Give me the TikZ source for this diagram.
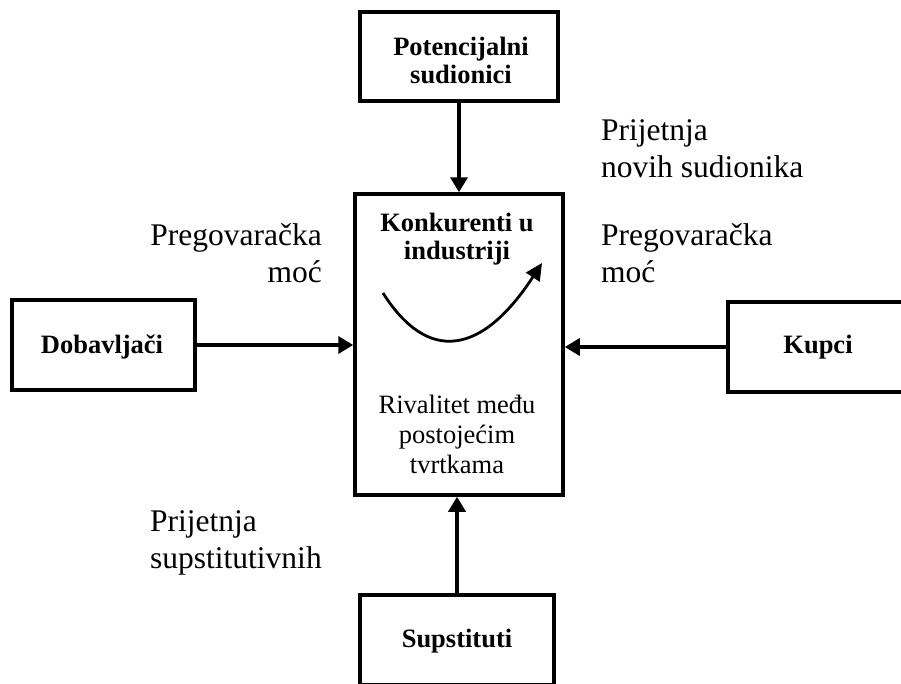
\documentclass[tikz,border=0pt]{standalone}
\usepackage{fontspec}
\setmainfont{Liberation Serif}
\usetikzlibrary{arrows.meta}
\tikzset{
  box/.style={draw, line width=3.5pt, rectangle, inner sep=0pt},
  boxtext/.style={inner sep=0pt, align=center, font=\fontsize{26.5}{28}\selectfont\bfseries},
  inner/.style={inner sep=0pt, align=center, font=\fontsize{26.5}{30}\selectfont},
  lbl/.style={inner sep=0pt, font=\fontsize{31.5}{37}\selectfont},
  conn/.style={line width=3.5pt, -{Triangle[length=15pt,width=17pt]}},
}
\begin{document}
\begin{tikzpicture}[x=1pt,y=-1pt]
\useasboundingbox (0,0) rectangle (901,683);
% boxes
\node[box, minimum width=198pt, minimum height=89pt] (pot) at (459,56.5) {};
\node[box, minimum width=208pt, minimum height=301pt] (kon) at (459,344.5) {};
\node[box, minimum width=183pt, minimum height=90pt] (dob) at (103.5,345) {};
\node[box, minimum width=182pt, minimum height=90pt] (kup) at (819,347) {};
\node[box, minimum width=194pt, minimum height=90pt] (sup) at (457,640) {};
% box texts
\node[boxtext, anchor=base] (pott) at (461,83) {Potencijalni\\sudionici};
\node[boxtext, anchor=base] (dobt) at (102,353) {Dobavljači};
\node[boxtext, anchor=base] (kupt) at (818,353) {Kupci};
\node[boxtext, anchor=base] (supt) at (457,647) {Supstituti};
% inner texts
\node[boxtext, anchor=base] (kt) at (457,259) {Konkurenti u\\industriji};
\node[inner, anchor=base] (rt) at (457,473) {Rivalitet među\\postojećim\\tvrtkama};
% curved arrow
\coordinate (cs) at (383,293);
\coordinate (ce) at (542,263);
\draw[line width=2.8pt, -{Triangle[length=17pt,width=16pt]}] (cs) .. controls (428,364) and (482,355) .. (ce);
% connectors
\draw[conn] (pot.south) -- (kon.north);
\draw[conn] (sup.north) -- (kon.south -| sup.north);
\draw[conn] (dob.east) -- (dob.east -| kon.west);
\draw[conn] (kup.west) -- (kup.west -| kon.east);
% labels
\node[lbl, align=left, anchor=base west] (l1) at (601,177) {Prijetnja\\novih sudionika};
\node[lbl, align=left, anchor=base west] (l2) at (601,282) {Pregovaračka\\moć};
\node[lbl, align=right, anchor=base east] (l3) at (322,282) {Pregovaračka\\moć};
\node[lbl, align=left, anchor=base west] (l4) at (150,568) {Prijetnja\\supstitutivnih};
\end{tikzpicture}
\end{document}
